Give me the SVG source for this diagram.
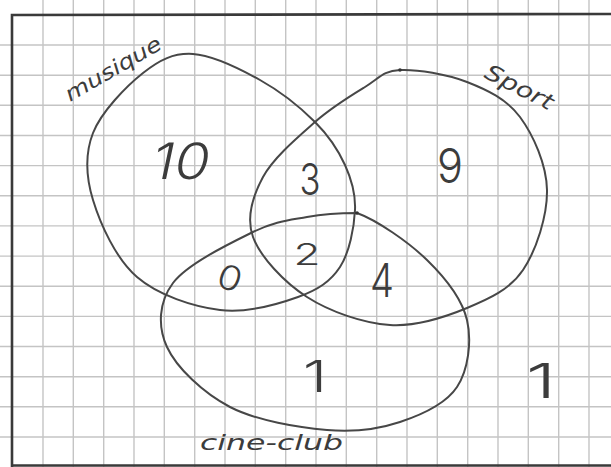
<svg xmlns="http://www.w3.org/2000/svg" width="611" height="467" viewBox="0 0 611 467">
<style>
.grid line{stroke:#c4c4c4;stroke-width:1.4}
.frame{stroke:#3a3a3a;stroke-width:2.6;fill:none}
.set{fill:none;stroke:#474747;stroke-width:2;stroke-linejoin:round}
.lbl{font-family:"DejaVu Sans","Liberation Sans",sans-serif;font-style:italic;fill:#3c3c3c}
.num{font-family:Inter,"DejaVu Sans",sans-serif;font-weight:300;fill:#3c3c3c;text-anchor:middle}
</style>
<rect width="611" height="467" fill="#ffffff"/>
<g class="grid" id="grid">
<line x1="43" y1="0" x2="43" y2="467"/><line x1="73.3" y1="0" x2="73.3" y2="467"/><line x1="103.7" y1="0" x2="103.7" y2="467"/><line x1="134" y1="0" x2="134" y2="467"/><line x1="164.3" y1="0" x2="164.3" y2="467"/><line x1="194.7" y1="0" x2="194.7" y2="467"/><line x1="225" y1="0" x2="225" y2="467"/><line x1="255.3" y1="0" x2="255.3" y2="467"/><line x1="285.7" y1="0" x2="285.7" y2="467"/><line x1="316" y1="0" x2="316" y2="467"/><line x1="346.3" y1="0" x2="346.3" y2="467"/><line x1="376.7" y1="0" x2="376.7" y2="467"/><line x1="407" y1="0" x2="407" y2="467"/><line x1="437.3" y1="0" x2="437.3" y2="467"/><line x1="467.7" y1="0" x2="467.7" y2="467"/><line x1="498" y1="0" x2="498" y2="467"/><line x1="528.3" y1="0" x2="528.3" y2="467"/><line x1="558.7" y1="0" x2="558.7" y2="467"/><line x1="589" y1="0" x2="589" y2="467"/>
<line x1="0" y1="45" x2="611" y2="45"/><line x1="0" y1="75.2" x2="611" y2="75.2"/><line x1="0" y1="105.3" x2="611" y2="105.3"/><line x1="0" y1="135.5" x2="611" y2="135.5"/><line x1="0" y1="165.6" x2="611" y2="165.6"/><line x1="0" y1="195.8" x2="611" y2="195.8"/><line x1="0" y1="225.9" x2="611" y2="225.9"/><line x1="0" y1="256.1" x2="611" y2="256.1"/><line x1="0" y1="286.2" x2="611" y2="286.2"/><line x1="0" y1="316.4" x2="611" y2="316.4"/><line x1="0" y1="346.5" x2="611" y2="346.5"/><line x1="0" y1="376.7" x2="611" y2="376.7"/><line x1="0" y1="406.8" x2="611" y2="406.8"/><line x1="0" y1="437" x2="611" y2="437"/>
</g>
<path class="frame" d="M12 467 L12 15 L611 14 M12 465.5 L611 465.5"/>
<g id="musique">
<path class="set" d="M193 54 C212.5 55.2 239.7 68.7 260 80 C280.3 91.3 300.8 107.8 315 122 C329.2 136.2 338.3 150.3 345 165 C351.7 179.7 355.8 193 355 210 C354.2 227 349.5 252.5 340 267 C330.5 281.5 318 289.8 298 297 C278 304.2 246.8 313.3 220 310 C193.2 306.7 158.2 295.3 137 277 C115.8 258.7 100.3 224 93 200 C85.7 176 84.7 154.2 93 133 C101.3 111.8 126.3 86.2 143 73 C159.7 59.8 173.5 52.8 193 54 Z"/>
<text class="lbl" x="70" y="102" font-size="21" textLength="108" lengthAdjust="spacingAndGlyphs" transform="rotate(-30 70 102)">musique</text>
</g>
<g id="sport">
<path class="set" d="M400 70 C417 69.2 447 74.2 467 82 C487 89.8 506.7 99 520 117 C533.3 135 546.5 164.5 547 190 C547.5 215.5 536.3 250.3 523 270 C509.7 289.7 489.2 298.8 467 308 C444.8 317.2 416.7 326.8 390 325 C363.3 323.2 329.8 311.7 307 297 C284.2 282.3 260.3 257 253 237 C245.7 217 252.7 196.2 263 177 C273.3 157.8 298 137 315 122 C332 107 350.8 95.7 365 87 C379.2 78.3 383 70.8 400 70 Z"/>
<circle cx="400" cy="70" r="1.8" fill="#333"/>
<text class="lbl" x="483" y="77" font-size="22" textLength="74" lengthAdjust="spacingAndGlyphs" transform="rotate(27 483 77)">Sport</text>
</g>
<g id="cine-club">
<path class="set" d="M357 213 C377 220.2 408.7 242.2 427 260 C445.3 277.8 462 298.8 467 320 C472 341.2 468.2 370 457 387 C445.8 404 421.7 414.8 400 422 C378.3 429.2 355.3 432.5 327 430 C298.7 427.5 256.7 420.8 230 407 C203.3 393.2 176.5 367.7 167 347 C157.5 326.3 158.7 302.2 173 283 C187.3 263.8 230.7 243 253 232 C275.3 221 289.7 220.2 307 217 C324.3 213.8 337 213 357 213 Z"/>
<circle cx="357" cy="213" r="1.8" fill="#333"/>
<text class="lbl" x="200" y="450" font-size="22" textLength="143" lengthAdjust="spacingAndGlyphs">cine-club</text>
</g>
<g id="counts">
<text class="num" x="178" y="179" font-size="50" textLength="58" lengthAdjust="spacingAndGlyphs" transform="skewX(-12) translate(38 0)">10</text>
<text class="num" x="310" y="195" font-size="43" textLength="21" lengthAdjust="spacingAndGlyphs">3</text>
<text class="num" x="450" y="183" font-size="48" textLength="26" lengthAdjust="spacingAndGlyphs">9</text>
<text class="num" x="307" y="265" font-size="30" textLength="27" lengthAdjust="spacingAndGlyphs">2</text>
<text class="num" x="230" y="290" font-size="34" textLength="24" lengthAdjust="spacingAndGlyphs" transform="rotate(20 230 278)">0</text>
<text class="num" x="382" y="297" font-size="46" textLength="24" lengthAdjust="spacingAndGlyphs">4</text>
<text class="num" x="315" y="392" font-size="43" textLength="24" lengthAdjust="spacingAndGlyphs">1</text>
<text class="num" x="541" y="398" font-size="48" textLength="30" lengthAdjust="spacingAndGlyphs">1</text>
</g>
</svg>
